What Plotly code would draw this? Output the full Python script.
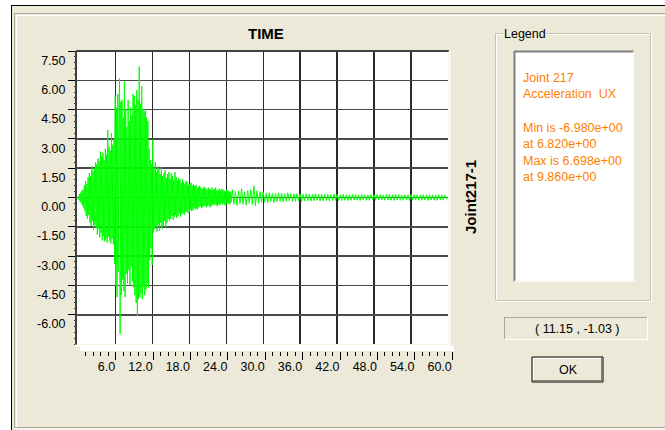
import numpy as np
import plotly.graph_objects as go

W, H = 665, 430

# ---------------- data ----------------
# acceleration, 0.0 .. 24.9 s, every 0.1 s
accel_a = [
    0.05, -0.12, 0.18, -0.22, 0.25, -0.30, 0.35, -0.42, 0.40, -0.55,
    0.62, -0.70, 0.85, -0.95, 0.70, -1.10, 1.05, -0.90, 1.25, -1.30,
    1.10, -1.45, 1.60, -1.20, 1.35, -1.65, 1.50, -1.40, 1.80, -1.55,
    1.70, -1.90, 2.00, -1.60, 1.85, -2.05, 2.35, -1.80, 2.10, -2.20,
    2.30, -1.95, 1.90, -2.25, 2.50, -2.10, 2.20, -2.30, 3.45, -2.00,
    2.60, -2.20, 2.40, -2.35, 3.30, -2.10, 2.70, -2.40, 3.00, -3.40,
    5.20, -4.50, 4.60, -5.10, 5.30, -3.80, 4.40, 6.10, -6.98, 4.90,
    -5.00, 5.00, -4.20, 4.10, -4.80, 5.95, -5.10, 4.50, -3.90, 3.60,
    -4.40, 5.00, -3.70, 3.90, -4.50, 4.60, -3.50, 4.20, -4.30, 5.30,
    -4.60, 5.20, -5.00, 4.70, -5.40, 5.50, -6.05, 5.00, -5.20, 6.698,
    -5.10, 4.80, -4.90, 5.70, -5.20, 4.50, -4.60, 4.40, -5.00, 4.50,
    -4.70, 4.10, -4.40, 3.90, -4.60, 2.50, -3.20, 1.90, -2.60, 1.70,
    -3.45, 2.95, -1.80, 1.50, -1.60, 1.80, -1.50, 1.30, -1.75, 1.60,
    -1.40, 1.50, -1.70, 1.20, -1.30, 1.55, -1.60, 1.10, -1.45, 1.25,
    -1.20, 1.40, -1.50, 1.00, -1.30, 1.20, -1.10, 1.30, -1.20, 0.95,
    -1.10, 1.25, -0.95, 1.10, -1.15, 0.90, -1.00, 1.30, -0.90, 1.05,
    -1.05, 0.85, -0.95, 1.00, -0.80, 0.90, -1.00, 0.75, -0.85, 0.95,
    -0.80, 0.80, -0.90, 0.70, -0.75, 0.85, -0.70, 0.80, -0.80, 0.65,
    -0.75, 0.70, -0.60, 0.75, -0.70, 0.60, -0.65, 0.70, -0.55, 0.60,
    -0.60, 0.65, -0.55, 0.50, -0.60, 0.55, -0.50, 0.60, -0.45, 0.50,
    -0.55, 0.45, -0.50, 0.50, -0.45, 0.55, -0.40, 0.45, -0.50, 0.40,
    -0.45, 0.50, -0.40, 0.45, -0.50, 0.40, -0.45, 0.50, -0.35, 0.40,
    -0.40, 0.45, -0.35, 0.50, -0.40, 0.35, -0.45, 0.40, -0.35, 0.45,
    -0.40, 0.35, -0.30, 0.45, -0.35, 0.40, -0.30, 0.35, -0.40, 0.30,
    -0.35, 0.40, -0.30, 0.35, -0.30, 0.30, -0.35, 0.30, -0.25, 0.35,
]
# acceleration, 25.0 .. 59.75 s, every 0.25 s
accel_b = [
    0.40, -0.35, 0.30, -0.40, 0.35, -0.30, 0.45, -0.35,
    0.30, -0.40, 0.35, -0.30, 0.40, -0.35, 0.60, -0.43,
    0.35, -0.30, 0.30, -0.25, 0.28, -0.24, 0.22, -0.27,
    0.24, -0.20, 0.22, -0.26, 0.20, -0.22, 0.24, -0.19,
    0.22, -0.22, 0.19, -0.20, 0.24, -0.17, 0.20, -0.22,
    0.18, -0.19, 0.20, -0.16, 0.19, -0.20, 0.17, -0.18,
    0.19, -0.16, 0.18, -0.18, 0.16, -0.17, 0.19, -0.15,
    0.17, -0.18, 0.15, -0.16, 0.18, -0.15, 0.16, -0.17,
    0.15, -0.16, 0.17, -0.14, 0.16, -0.15, 0.14, -0.16,
    0.16, -0.14, 0.15, -0.16, 0.14, -0.15, 0.16, -0.13,
    0.15, -0.14, 0.13, -0.15, 0.16, -0.13, 0.14, -0.15,
    0.13, -0.15, 0.15, -0.13, 0.14, -0.14, 0.16, -0.13,
    0.15, -0.13, 0.13, -0.14, 0.15, -0.13, 0.17, -0.14,
    0.14, -0.15, 0.16, -0.13, 0.15, -0.14, 0.13, -0.15,
    0.15, -0.13, 0.14, -0.15, 0.16, -0.14, 0.15, -0.13,
    0.14, -0.15, 0.13, -0.14, 0.15, -0.13, 0.14, -0.15,
    0.15, -0.13, 0.14, -0.14, 0.13, -0.15, 0.14, -0.13,
    0.13, -0.14, 0.12, -0.10,
]
dt_a, dt_b, t_b0 = 0.1, 0.25, 25.0
time_a = np.round(np.arange(len(accel_a)) * dt_a, 3)
time_b = np.round(t_b0 + np.arange(len(accel_b)) * dt_b, 3)
time = np.concatenate([time_a, time_b])
accel = np.concatenate([accel_a, accel_b])

x_grid = [6, 12, 18, 24, 30, 36, 42, 48, 54]
y_grid = [-6.0, -4.5, -3.0, -1.5, 0.0, 1.5, 3.0, 4.5, 6.0]
y_tick_vals = [-6.0, -4.5, -3.0, -1.5, 0.0, 1.5, 3.0, 4.5, 6.0, 7.5]
y_tick_text = ["-6.00", "-4.50", "-3.00", "-1.50", "0.00",
               "1.50", "3.00", "4.50", "6.00", "7.50"]

title_text = "TIME"
side_text = "Joint217-1"
legend_title = "Legend"
legend_lines = ["Joint 217", "Acceleration\u00a0 UX", "",
                "Min is -6.980e+00", "at 6.820e+00",
                "Max is 6.698e+00", "at 9.860e+00"]
coord_text = "( 11.15 , -1.03 )"
button_text = "OK"

# ---------------- styling ----------------
BEIGE = "#ECE9D8"
FONT = "Liberation Sans, Arial, sans-serif"
ORANGE = "#FF8000"


def fx(p):
    return p / W


def fy(p):
    return 1 - p / H


def line(x0, y0, x1, y1, color, width=1):
    return dict(type="line", xref="paper", yref="paper",
                x0=fx(x0), y0=fy(y0), x1=fx(x1), y1=fy(y1),
                line=dict(color=color, width=width))


def rect(x0, y0, x1, y1, fill, color=None, width=0):
    return dict(type="rect", xref="paper", yref="paper",
                x0=fx(x0), y0=fy(y0), x1=fx(x1), y1=fy(y1),
                fillcolor=fill,
                line=dict(color=color or fill, width=width))


fig = go.Figure()
fig.add_trace(go.Scatter(x=time, y=accel, mode="lines",
                         line=dict(color="#00FF00", width=1),
                         hoverinfo="skip", showlegend=False))
fig.add_trace(go.Scatter(x=[], y=[], yaxis="y2", showlegend=False))
fig.add_trace(go.Scatter(x=[], y=[], xaxis="x3", yaxis="y3", showlegend=False))

plot_l, plot_r, plot_t, plot_b = 77, 448, 51, 344

shapes = []
# window frame
shapes += [
    rect(0, 0, W, 5, "white"),
    rect(0, 0, 11, H, "white"),
    line(11, 5.5, W, 5.5, "#000000", 1),
    line(11.5, 5, 11.5, H, "#000000", 1),
    line(14.5, 13.5, W, 13.5, "#ACA899", 1),
    line(14.5, 13.5, 14.5, 428, "#ACA899", 1),
    line(16, 15.5, W, 15.5, "#FFFFFF", 1),
    line(16.5, 15.5, 16.5, 427, "#FFFFFF", 1),
    line(14.5, 427.5, W, 427.5, "#ACA899", 1),
    line(14.5, 429, W, 429, "#FFFFFF", 1),
]
# plot border (sunken)
shapes += [
    line(plot_l - 1, plot_t, plot_r + 1, plot_t, "#404040", 2),
    line(plot_l - 1, plot_t, plot_l - 1, plot_b + 1, "#404040", 2),
    line(plot_l - 2, plot_b + 1.5, plot_r + 2, plot_b + 1.5, "#FFFFFF", 2),
    line(plot_r + 1.5, plot_t, plot_r + 1.5, plot_b + 2, "#FFFFFF", 2),
]
# legend group box
shapes += [
    rect(496.5, 34.5, 651.5, 301.5, "rgba(0,0,0,0)", "#FFFFFF", 1),
    rect(495.5, 33.5, 650.5, 300.5, "rgba(0,0,0,0)", "#C5C2B2", 1),
    rect(514, 51, 634, 282, "white"),
    line(514, 51.5, 634, 51.5, "#808080", 2),
    line(514.5, 51, 514.5, 282, "#808080", 2),
    line(514, 281.5, 635, 281.5, "#F4F3EE", 1.5),
    line(634, 51, 634, 282, "#F4F3EE", 1.5),
]
# coordinate box
shapes += [
    rect(504, 317, 648, 340, BEIGE),
    line(504, 317.5, 648, 317.5, "#ACA899", 1),
    line(504.5, 317, 504.5, 340, "#ACA899", 1),
    line(504, 339.5, 648, 339.5, "#FFFFFF", 1),
    line(647.5, 317, 647.5, 340, "#FFFFFF", 1),
]
# OK button
shapes += [
    rect(532, 357, 603, 382, BEIGE, "#000000", 1),
    line(533.5, 358.5, 601.5, 358.5, "#FFFFFF", 1),
    line(533.5, 358.5, 533.5, 380.5, "#FFFFFF", 1),
    line(533, 380.5, 602, 380.5, "#808080", 1),
    line(601.5, 358, 601.5, 381, "#808080", 1),
]

annotations = [
    dict(text=f"<b>{title_text}</b>", x=fx(266), y=fy(34), xref="paper", yref="paper",
         showarrow=False, xanchor="center", yanchor="middle",
         font=dict(family=FONT, size=15, color="#000000")),
    dict(text=f"<b>{side_text}</b>", x=fx(470), y=fy(197), xref="paper", yref="paper",
         showarrow=False, xanchor="center", yanchor="middle", textangle=-90,
         font=dict(family=FONT, size=15, color="#000000")),
    dict(text=legend_title, x=fx(503), y=fy(34), xref="paper", yref="paper",
         showarrow=False, xanchor="left", yanchor="middle", bgcolor=BEIGE,
         borderpad=0, font=dict(family=FONT, size=12.5, color="#000000")),
    dict(text=coord_text, x=fx(577), y=fy(328.5), xref="paper", yref="paper",
         showarrow=False, xanchor="center", yanchor="middle",
         font=dict(family=FONT, size=12.5, color="#000000")),
    dict(text=button_text, x=fx(568), y=fy(370), xref="paper", yref="paper",
         showarrow=False, xanchor="center", yanchor="middle",
         font=dict(family=FONT, size=12.5, color="#000000")),
]
line_y0, line_step = 77.7, 16.6
for i, txt in enumerate(legend_lines):
    if not txt:
        continue
    annotations.append(dict(text=txt, x=fx(521), y=fy(line_y0 + i * line_step),
                            xref="paper", yref="paper", showarrow=False,
                            xanchor="left", yanchor="middle",
                            font=dict(family=FONT, size=12.5, color=ORANGE)))

# ruler scale (slightly different from plot scale in the original)
ruler_l, ruler_r = 80, 454
r0_px, r_ppu = 78.3, 6.233
ruler_range = [(ruler_l - r0_px) / r_ppu, (ruler_r - r0_px) / r_ppu]

tick_font = dict(family=FONT, size=12.5, color="#000000")

fig.update_layout(
    width=W, height=H, autosize=False,
    margin=dict(l=0, r=0, t=0, b=0),
    paper_bgcolor=BEIGE, plot_bgcolor="white",
    showlegend=False, hovermode=False,
    shapes=shapes, annotations=annotations,
    xaxis=dict(domain=[fx(plot_l), fx(plot_r)], range=[-0.2, 60], fixedrange=True,
               tickmode="array", tickvals=x_grid, showticklabels=False, ticks="",
               showgrid=True, gridcolor="#2a2a2a", gridwidth=1.2,
               zeroline=False, showline=False),
    yaxis=dict(domain=[fy(plot_b), fy(plot_t)], range=[-7.5, 7.5], fixedrange=True,
               tickmode="array", tickvals=y_grid, showticklabels=False, ticks="",
               showgrid=True, gridcolor="#4a4a4a", gridwidth=1.6,
               zeroline=False, showline=False),
    yaxis2=dict(overlaying="y", anchor="x", side="left", range=[-7.5, 7.5], fixedrange=True,
                tickmode="array", tickvals=y_tick_vals, ticktext=y_tick_text,
                ticks="outside", ticklen=8, tickwidth=1, tickcolor="#000000",
                ticklabelposition="outside bottom", ticklabelstandoff=8, tickfont=tick_font,
                minor=dict(ticks="outside", ticklen=2, tickwidth=1, tickcolor="#333333",
                           tickmode="linear", tick0=0, dtick=0.3, showgrid=False),
                showgrid=False, zeroline=False, showline=False),
    xaxis3=dict(domain=[fx(ruler_l), fx(ruler_r)], range=ruler_range, anchor="y3",
                fixedrange=True, tickmode="linear", tick0=0, dtick=6, tickformat=".1f",
                ticks="outside", ticklen=8, tickwidth=1, tickcolor="#000000",
                ticklabelposition="outside left", ticklabelstandoff=4, tickfont=tick_font,
                minor=dict(ticks="outside", ticklen=4, tickwidth=1, tickcolor="#000000",
                           tickmode="linear", tick0=0, dtick=1.2, showgrid=False),
                showgrid=False, zeroline=False, showline=False),
    yaxis3=dict(domain=[fy(351), fy(346)], range=[0, 1], visible=False, fixedrange=True),
)

fig.write_html(
    "out.html",
    config={"displayModeBar": False, "staticPlot": True},
    post_script="document.body.style.margin='0';document.body.style.overflow='hidden';",
)
